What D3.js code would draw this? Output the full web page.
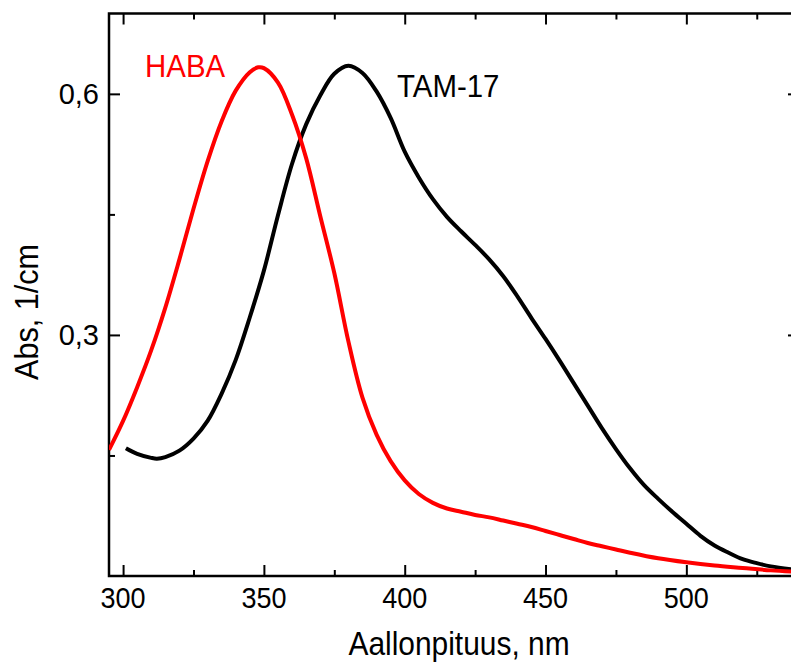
<!DOCTYPE html>
<html lang="fi">
<head>
    <meta charset="UTF-8">
    <title>HABA / TAM-17 absorbance</title>
    <script src="https://d3js.org/d3.v7.min.js"></script>
    <style>
        body { margin: 0; background: #fff; }
        svg { display: block; }
        text { font-family: "Liberation Sans", Arial, sans-serif; }
    </style>
</head>
<body>
    <div id="chart"></div>
    <script>
        // HABA spectrum (red)
        const habaNm = [295, 300, 305, 310, 315, 320, 325, 330, 335, 340, 345, 348, 350, 355, 360, 365, 370, 375, 380,
            385, 390, 395, 400, 405, 410, 415, 420, 425, 430, 435, 440, 445, 450, 455, 460, 465, 470, 475, 480,
            490, 500, 510, 520, 530, 540];
        const habaAbs = [0.157, 0.193, 0.235, 0.281, 0.334, 0.394, 0.457, 0.516, 0.566, 0.604, 0.627, 0.633, 0.632, 0.614, 0.574, 0.520, 0.448, 0.377, 0.292,
            0.222, 0.176, 0.143, 0.119, 0.102, 0.091, 0.084, 0.080, 0.076, 0.073, 0.069, 0.065, 0.061, 0.056, 0.051, 0.046, 0.041, 0.037, 0.033, 0.029,
            0.022, 0.017, 0.013, 0.010, 0.007, 0.005];

        // TAM-17 spectrum (black)
        const tamNm = [301, 305, 310, 312, 315, 320, 325, 330, 335, 340, 345, 350, 355, 360, 365, 370, 375, 380, 385,
            390, 395, 400, 405, 410, 415, 420, 425, 430, 435, 440, 445, 450, 455, 460, 465, 470, 475, 480, 485,
            490, 495, 500, 505, 510, 515, 520, 525, 530, 540];
        const tamAbs = [0.159, 0.152, 0.147, 0.146, 0.148, 0.156, 0.171, 0.193, 0.227, 0.269, 0.322, 0.380, 0.449, 0.513, 0.562, 0.598, 0.625, 0.635, 0.626,
            0.603, 0.570, 0.528, 0.496, 0.469, 0.447, 0.429, 0.412, 0.394, 0.373, 0.348, 0.321, 0.295, 0.268, 0.240, 0.212, 0.184, 0.158, 0.134, 0.113,
            0.096, 0.080, 0.065, 0.050, 0.038, 0.029, 0.021, 0.016, 0.012, 0.007];

        const xMajor = [300, 350, 400, 450, 500];
        const xMinor = [325, 375, 425, 475, 525];
        const yMajor = [0.3, 0.6];
        const yMinor = [0.15, 0.45];

        const W = 791, H = 663;
        const pLeft = 109, pRight = 799, pTop = 13.5, pBottom = 576;

        const svg = d3.select("#chart").append("svg")
            .attr("width", W)
            .attr("height", H);

        const x = d3.scaleLinear().domain([295, 540]).range([pLeft, pRight]);
        const y = d3.scaleLinear().domain([0, 0.7]).range([pBottom, pTop]);

        svg.append("clipPath").attr("id", "plot")
            .append("rect")
            .attr("x", pLeft).attr("y", pTop)
            .attr("width", pRight - pLeft).attr("height", pBottom - pTop);

        // frame
        svg.append("rect")
            .attr("x", pLeft).attr("y", pTop)
            .attr("width", pRight - pLeft).attr("height", pBottom - pTop)
            .attr("fill", "none")
            .attr("stroke", "#000")
            .attr("stroke-width", 2.5);

        // inward ticks on all four sides
        function xticks(vals, len) {
            svg.append("g").call(d3.axisBottom(x).tickValues(vals).tickSize(-len).tickFormat(""))
                .attr("transform", `translate(0,${pBottom})`);
            svg.append("g").call(d3.axisTop(x).tickValues(vals).tickSize(-len).tickFormat(""))
                .attr("transform", `translate(0,${pTop})`);
        }
        function yticks(vals, len) {
            svg.append("g").call(d3.axisLeft(y).tickValues(vals).tickSize(-len).tickFormat(""))
                .attr("transform", `translate(${pLeft},0)`);
            svg.append("g").call(d3.axisRight(y).tickValues(vals).tickSize(-len).tickFormat(""))
                .attr("transform", `translate(${pRight},0)`);
        }
        xticks(xMajor, 11);
        xticks(xMinor, 6);
        yticks(yMajor, 11);
        yticks(yMinor, 6);
        svg.selectAll(".domain").remove();
        svg.selectAll(".tick line").attr("stroke", "#000").attr("stroke-width", 2);

        // tick labels
        svg.append("g").selectAll("text")
            .data(xMajor)
            .join("text")
            .attr("transform", d => `translate(${x(d)},608) scale(0.9,1)`)
            .attr("text-anchor", "middle")
            .style("font-size", "30px")
            .text(d => d);

        svg.append("g").selectAll("text")
            .data(yMajor)
            .join("text")
            .attr("transform", d => `translate(99,${y(d) + 10.5})`)
            .attr("text-anchor", "end")
            .style("font-size", "29px")
            .text(d => d3.format(".1f")(d).replace(".", ","));

        // axis titles
        svg.append("text")
            .attr("transform", `translate(459,655) scale(0.88,1)`)
            .attr("text-anchor", "middle")
            .style("font-size", "34px")
            .text("Aallonpituus, nm");

        svg.append("text")
            .attr("transform", `translate(38,312) rotate(-90) scale(0.9,1)`)
            .attr("text-anchor", "middle")
            .style("font-size", "34px")
            .text("Abs, 1/cm");

        // curves
        const line = d3.line()
            .x(d => x(d[0]))
            .y(d => y(d[1]))
            .curve(d3.curveCatmullRom);

        const plot = svg.append("g").attr("clip-path", "url(#plot)");
        plot.append("path")
            .datum(tamNm.map((v, i) => [v, tamAbs[i]]))
            .attr("d", line)
            .attr("fill", "none")
            .attr("stroke", "#000")
            .attr("stroke-width", 4);
        plot.append("path")
            .datum(habaNm.map((v, i) => [v, habaAbs[i]]))
            .attr("d", line)
            .attr("fill", "none")
            .attr("stroke", "#ff0000")
            .attr("stroke-width", 4);

        // series labels
        svg.append("text")
            .attr("transform", `translate(145,77) scale(0.92,1)`)
            .attr("fill", "#ff0000")
            .style("font-size", "32px")
            .text("HABA");
        svg.append("text")
            .attr("transform", `translate(397,97) scale(0.92,1)`)
            .attr("fill", "#000")
            .style("font-size", "32px")
            .text("TAM-17");
    </script>
</body>
</html>
